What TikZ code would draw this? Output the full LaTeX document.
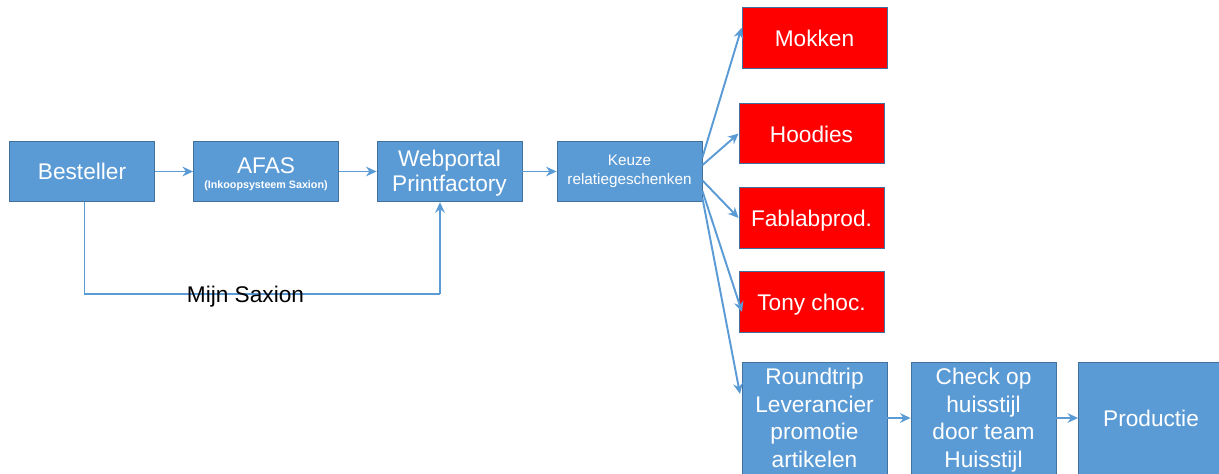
\documentclass[tikz,border=0pt]{standalone}
\usepackage{fontspec}
\setmainfont{Liberation Sans}
\usetikzlibrary{arrows.meta}
\definecolor{boxblue}{HTML}{5B9BD5}
\definecolor{boxedge}{HTML}{41719C}
\newcommand{\bigtxt}{\fontsize{12.9}{15.8}\selectfont}
\tikzset{
	blok/.style={draw=boxedge, line width=0.5pt, fill=boxblue, text=white, align=center, inner sep=0pt, minimum width=2.9cm, minimum height=1.21cm, font=\bigtxt},
	rood/.style={blok, fill=red, text height=11pt, text depth=1pt},
	hoog/.style={blok, minimum height=2.24cm},
	vier/.style={hoog, text height=58pt, text depth=1.4pt},
	pijl/.style={draw=boxblue, line width=1.1pt, -{Stealth[length=6pt,width=5.5pt]}}
}

\begin{document}
\begin{tikzpicture}[x=0.02cm, y=-0.02cm]
	\useasboundingbox (0,0) rectangle (1219,473);
	\node[blok] (besteller) at (82,171.5) {Besteller};
	\node[blok, text height=20.5pt, text depth=0.7pt] (afas) at (266,171.5) {AFAS\\[-7.3pt]{\fontsize{6.1}{7}\selectfont\bfseries (Inkoopsysteem Saxion)}};
	\node[blok, font=\fontsize{12.9}{14.7}\selectfont, text height=24pt, text depth=0.8pt] (webportal) at (449.5,171.5) {Webportal\\Printfactory};
	\node[blok, font=\fontsize{8.7}{11.3}\selectfont, text height=16pt, text depth=0.7pt] (keuze) at (629.5,171.5) {Keuze\\relatiegeschenken};
	\foreach \naam/\x/\y/\tekst in {mokken/814.5/38/Mokken, hoodies/811.5/133.5/Hoodies, fablab/811.5/218/Fablabprod., tony/811.5/302/Tony choc.}
		\node[rood] (\naam) at (\x,\y) {\tekst};
	\node[vier] (roundtrip) at (814.5,418) {Roundtrip\\Leverancier\\promotie\\artikelen};
	\node[vier] (check) at (983.5,418) {Check op\\huisstijl\\door team\\Huisstijl};
	\node[hoog, text height=11.5pt, text depth=1.5pt] (productie) at (1151,418) {Productie};
	\coordinate (hoek1) at (84.5,294);
	\coordinate (hoek2) at (440,294);
	\coordinate (tonyin) at (742,312);
	\coordinate (roundin) at (740,394);
	\draw[pijl] (besteller) -- (afas);
	\draw[pijl] (afas) -- (webportal);
	\draw[pijl] (webportal) -- (keuze);
	\draw[pijl, -] (besteller.south -| hoek1) -- (hoek1) -- (hoek2);
	\draw[pijl] (hoek2) -- (hoek2 |- webportal.south);
	\draw[pijl] (keuze.11) -- (mokken.172);
	\draw[pijl] (keuze.5) -- (hoodies.west);
	\draw[pijl] (keuze.-7) -- (fablab.west);
	\draw[pijl] (keuze.-15) -- (tonyin);
	\draw[pijl] (keuze.-20) -- (roundin);
	\draw[pijl] (roundtrip.east) -- (check.west);
	\draw[pijl] (check.east) -- (productie.west);
	\node[font=\bigtxt, text=black, text height=11pt, text depth=1pt] (mijn) at (245.5,294) {Mijn Saxion};
\end{tikzpicture}
\end{document}
